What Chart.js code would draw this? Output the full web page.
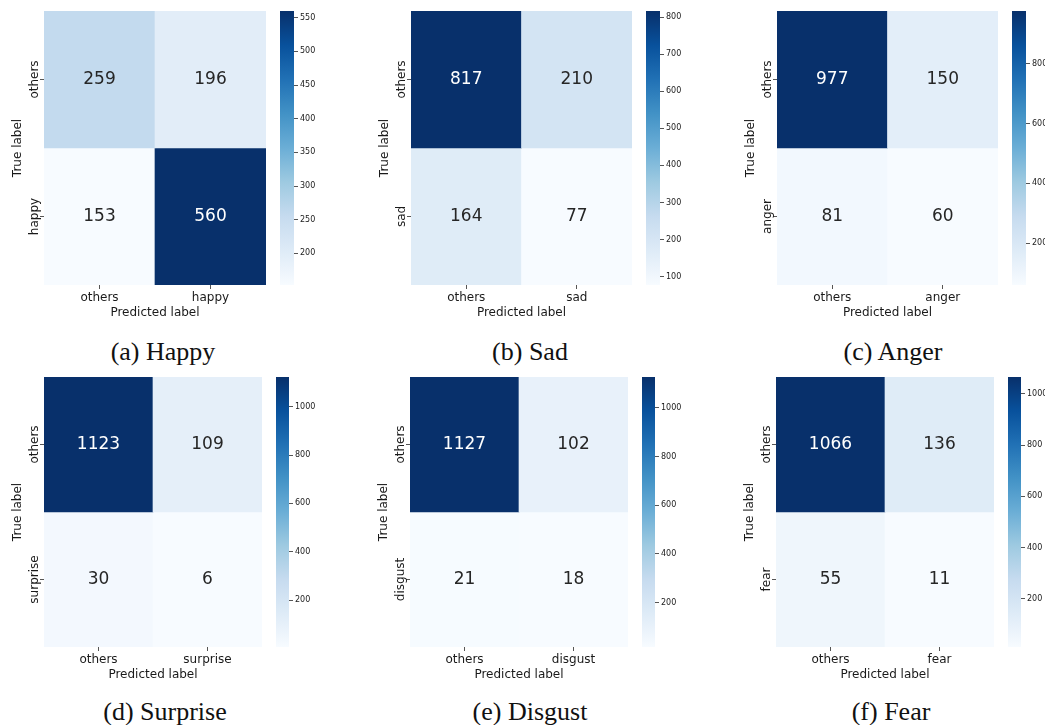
<!DOCTYPE html>
<html>
<head>
<meta charset="utf-8">
<script src="https://cdn.jsdelivr.net/npm/chart.js@4.4.1/dist/chart.umd.min.js"></script>
<style>
  html, body { margin: 0; padding: 0; background: #fff; overflow: hidden; width: 1045px; height: 725px; }
  #fig { position: relative; width: 1045px; height: 725px; }
  #fig canvas { position: absolute; }
  .cap { position: absolute; width: 260px; text-align: center; font-family: "Liberation Serif", "DejaVu Serif", serif;
         font-size: 26px; line-height: 30px; color: #111; white-space: nowrap; }
</style>
</head>
<body>
<div id="fig"></div>
<script>
// Confusion matrices (rows = true label, columns = predicted label)
const happyLabels = ['others', 'happy'];
const happyCounts = [[259, 196], [153, 560]];
const happyTicks = [200, 250, 300, 350, 400, 450, 500, 550];

const sadLabels = ['others', 'sad'];
const sadCounts = [[817, 210], [164, 77]];
const sadTicks = [100, 200, 300, 400, 500, 600, 700, 800];

const angerLabels = ['others', 'anger'];
const angerCounts = [[977, 150], [81, 60]];
const angerTicks = [200, 400, 600, 800];

const surpriseLabels = ['others', 'surprise'];
const surpriseCounts = [[1123, 109], [30, 6]];
const surpriseTicks = [200, 400, 600, 800, 1000];

const disgustLabels = ['others', 'disgust'];
const disgustCounts = [[1127, 102], [21, 18]];
const disgustTicks = [200, 400, 600, 800, 1000];

const fearLabels = ['others', 'fear'];
const fearCounts = [[1066, 136], [55, 11]];
const fearTicks = [200, 400, 600, 800, 1000];

const captions = ['(a) Happy', '(b) Sad', '(c) Anger', '(d) Surprise', '(e) Disgust', '(f) Fear'];

// Page layout: heatmap box [left, top, right, bottom], colorbar [left, right], caption centre
const panels = [
  { labels: happyLabels,    counts: happyCounts,    ticks: happyTicks,    box: [44, 11, 266, 285],  cb: [280, 294],   cap: [163, 352] },
  { labels: sadLabels,      counts: sadCounts,      ticks: sadTicks,      box: [411, 11, 632, 285], cb: [646, 660],   cap: [530, 352] },
  { labels: angerLabels,    counts: angerCounts,    ticks: angerTicks,    box: [777, 11, 998, 285], cb: [1012, 1026], cap: [893, 352] },
  { labels: surpriseLabels, counts: surpriseCounts, ticks: surpriseTicks, box: [44, 377, 262, 647], cb: [276, 289],   cap: [165, 712] },
  { labels: disgustLabels,  counts: disgustCounts,  ticks: disgustTicks,  box: [410, 377, 628, 647], cb: [642, 655],  cap: [530, 712] },
  { labels: fearLabels,     counts: fearCounts,     ticks: fearTicks,     box: [776, 377, 994, 647], cb: [1008, 1021], cap: [891, 712] }
];

// Sequential "Blues" colour ramp
const BLUES = ['#f7fbff', '#deebf7', '#c6dbef', '#9ecae1', '#6baed6', '#4292c6', '#2171b5', '#08519c', '#08306b'];
function hexRgb(h) { return [1, 3, 5].map(i => parseInt(h.substr(i, 2), 16)); }
const BLUES_RGB = BLUES.map(hexRgb);
function bluesRgb(t) {
  t = Math.max(0, Math.min(1, t));
  const s = t * (BLUES.length - 1);
  const i = Math.min(Math.floor(s), BLUES.length - 2);
  const f = s - i;
  return BLUES_RGB[i].map((a, k) => a + (BLUES_RGB[i + 1][k] - a) * f);
}
function rgbStr(c) { return 'rgb(' + c.map(v => Math.round(v)).join(',') + ')'; }
function luminance(c) {
  const lin = c.map(v => { v /= 255; return v <= 0.03928 ? v / 12.92 : Math.pow((v + 0.055) / 1.055, 2.4); });
  return lin[0] * 0.2126 + lin[1] * 0.7152 + lin[2] * 0.0722;
}

Chart.defaults.font.family = '"DejaVu Sans", sans-serif';
Chart.defaults.color = '#1a1a1a';

// Writes each count in the middle of its cell
const cellText = {
  id: 'cellText',
  afterDatasetsDraw(chart, args, opts) {
    const ctx = chart.ctx;
    ctx.save();
    ctx.font = '17px "DejaVu Sans"';
    ctx.textAlign = 'center';
    ctx.textBaseline = 'middle';
    chart.data.datasets.forEach((ds, r) => {
      chart.getDatasetMeta(r).data.forEach((el, c) => {
        ctx.fillStyle = ds.textColors[c];
        ctx.fillText(String(opts.counts[r][c]), el.x, (el.y + el.base) / 2);
      });
    });
    ctx.restore();
  }
};

const fig = document.getElementById('fig');
const measure = document.createElement('canvas').getContext('2d');
measure.font = '12px "DejaVu Sans"';

const Y_AXIS_W = 33, X_AXIS_H = 35, PAD_TOP = 10, PAD_RIGHT = 4;

panels.forEach((p, idx) => {
  const flat = p.counts.flat();
  const vmin = Math.min(...flat), vmax = Math.max(...flat);
  const norm = v => (v - vmin) / (vmax - vmin);

  // ---- heatmap ----
  const [l, t, r, b] = p.box;
  const cv = document.createElement('canvas');
  cv.width = Y_AXIS_W + (r - l) + PAD_RIGHT;
  cv.height = PAD_TOP + (b - t) + X_AXIS_H;
  cv.style.left = (l - Y_AXIS_W) + 'px';
  cv.style.top = (t - PAD_TOP) + 'px';
  fig.appendChild(cv);

  const widest = Math.max(...p.labels.map(s => measure.measureText(s).width));
  const tickLen = 4;
  const yLabelPad = 9.3 - tickLen - widest / 2;

  new Chart(cv, {
    type: 'bar',
    data: {
      labels: p.labels,
      datasets: p.counts.map((row, ri) => {
        const cols = row.map(v => bluesRgb(norm(v)));
        return {
          data: row.map(() => [ri, ri + 1]),
          backgroundColor: cols.map(rgbStr),
          textColors: cols.map(c => luminance(c) > 0.408 ? '#262626' : '#ffffff'),
          borderWidth: 0,
          grouped: false,
          barPercentage: 1,
          categoryPercentage: 1
        };
      })
    },
    options: {
      responsive: false,
      animation: false,
      events: [],
      devicePixelRatio: 1,
      layout: { padding: { top: PAD_TOP, right: PAD_RIGHT, bottom: 0, left: 0 } },
      plugins: { legend: { display: false }, tooltip: { enabled: false }, cellText: { counts: p.counts } },
      scales: {
        x: {
          type: 'category',
          offset: true,
          grid: { drawOnChartArea: false, offset: false, tickLength: tickLen, color: '#555', lineWidth: 1 },
          border: { display: false },
          ticks: { font: { size: 12 }, padding: 1.5, maxRotation: 0, minRotation: 0 },
          title: { display: true, text: 'Predicted label', font: { size: 12 }, padding: 0 },
          afterFit: s => { s.height = X_AXIS_H; }
        },
        y: {
          type: 'linear',
          min: 0,
          max: p.labels.length,
          reverse: true,
          afterBuildTicks: s => { s.ticks = p.labels.map((_, i) => ({ value: i + 0.5 })); },
          grid: { drawOnChartArea: false, tickLength: tickLen, color: '#555', lineWidth: 1 },
          border: { display: false },
          ticks: {
            font: { size: 12 }, minRotation: 90, maxRotation: 90, crossAlign: 'center', padding: yLabelPad,
            callback: (v, i) => p.labels[i]
          },
          title: { display: true, text: 'True label', font: { size: 12 }, padding: 0 },
          afterFit: s => { s.width = Y_AXIS_W; }
        }
      }
    },
    plugins: [cellText]
  });

  // ---- colorbar ----
  const CB_AXIS_W = 40;
  const cb = document.createElement('canvas');
  cb.width = (p.cb[1] - p.cb[0]) + CB_AXIS_W;
  cb.height = PAD_TOP + (b - t) + PAD_TOP;
  cb.style.left = p.cb[0] + 'px';
  cb.style.top = (t - PAD_TOP) + 'px';
  fig.appendChild(cb);

  new Chart(cb, {
    type: 'bar',
    data: {
      labels: [''],
      datasets: [{
        data: [[vmin, vmax]],
        backgroundColor: ctx => {
          const ca = ctx.chart.chartArea;
          if (!ca) return BLUES[4];
          const g = ctx.chart.ctx.createLinearGradient(0, ca.bottom, 0, ca.top);
          BLUES.forEach((c, i) => g.addColorStop(i / (BLUES.length - 1), c));
          return g;
        },
        borderWidth: 0,
        barPercentage: 1,
        categoryPercentage: 1
      }]
    },
    options: {
      responsive: false,
      animation: false,
      events: [],
      devicePixelRatio: 1,
      layout: { padding: { top: PAD_TOP, bottom: PAD_TOP, left: 0, right: 0 } },
      plugins: { legend: { display: false }, tooltip: { enabled: false } },
      scales: {
        x: { display: false },
        y: {
          type: 'linear',
          position: 'right',
          min: vmin,
          max: vmax,
          afterBuildTicks: s => { s.ticks = p.ticks.map(v => ({ value: v })); },
          grid: { drawOnChartArea: false, tickLength: 4, color: '#555', lineWidth: 1 },
          border: { display: false },
          ticks: { font: { size: 8 }, padding: 2, callback: v => String(v) },
          afterFit: s => { s.width = CB_AXIS_W; }
        }
      }
    }
  });

  // ---- caption ----
  const cap = document.createElement('div');
  cap.className = 'cap';
  cap.textContent = captions[idx];
  cap.style.left = (p.cap[0] - 130) + 'px';
  cap.style.top = (p.cap[1] - 15) + 'px';
  fig.appendChild(cap);
});
</script>
</body>
</html>
